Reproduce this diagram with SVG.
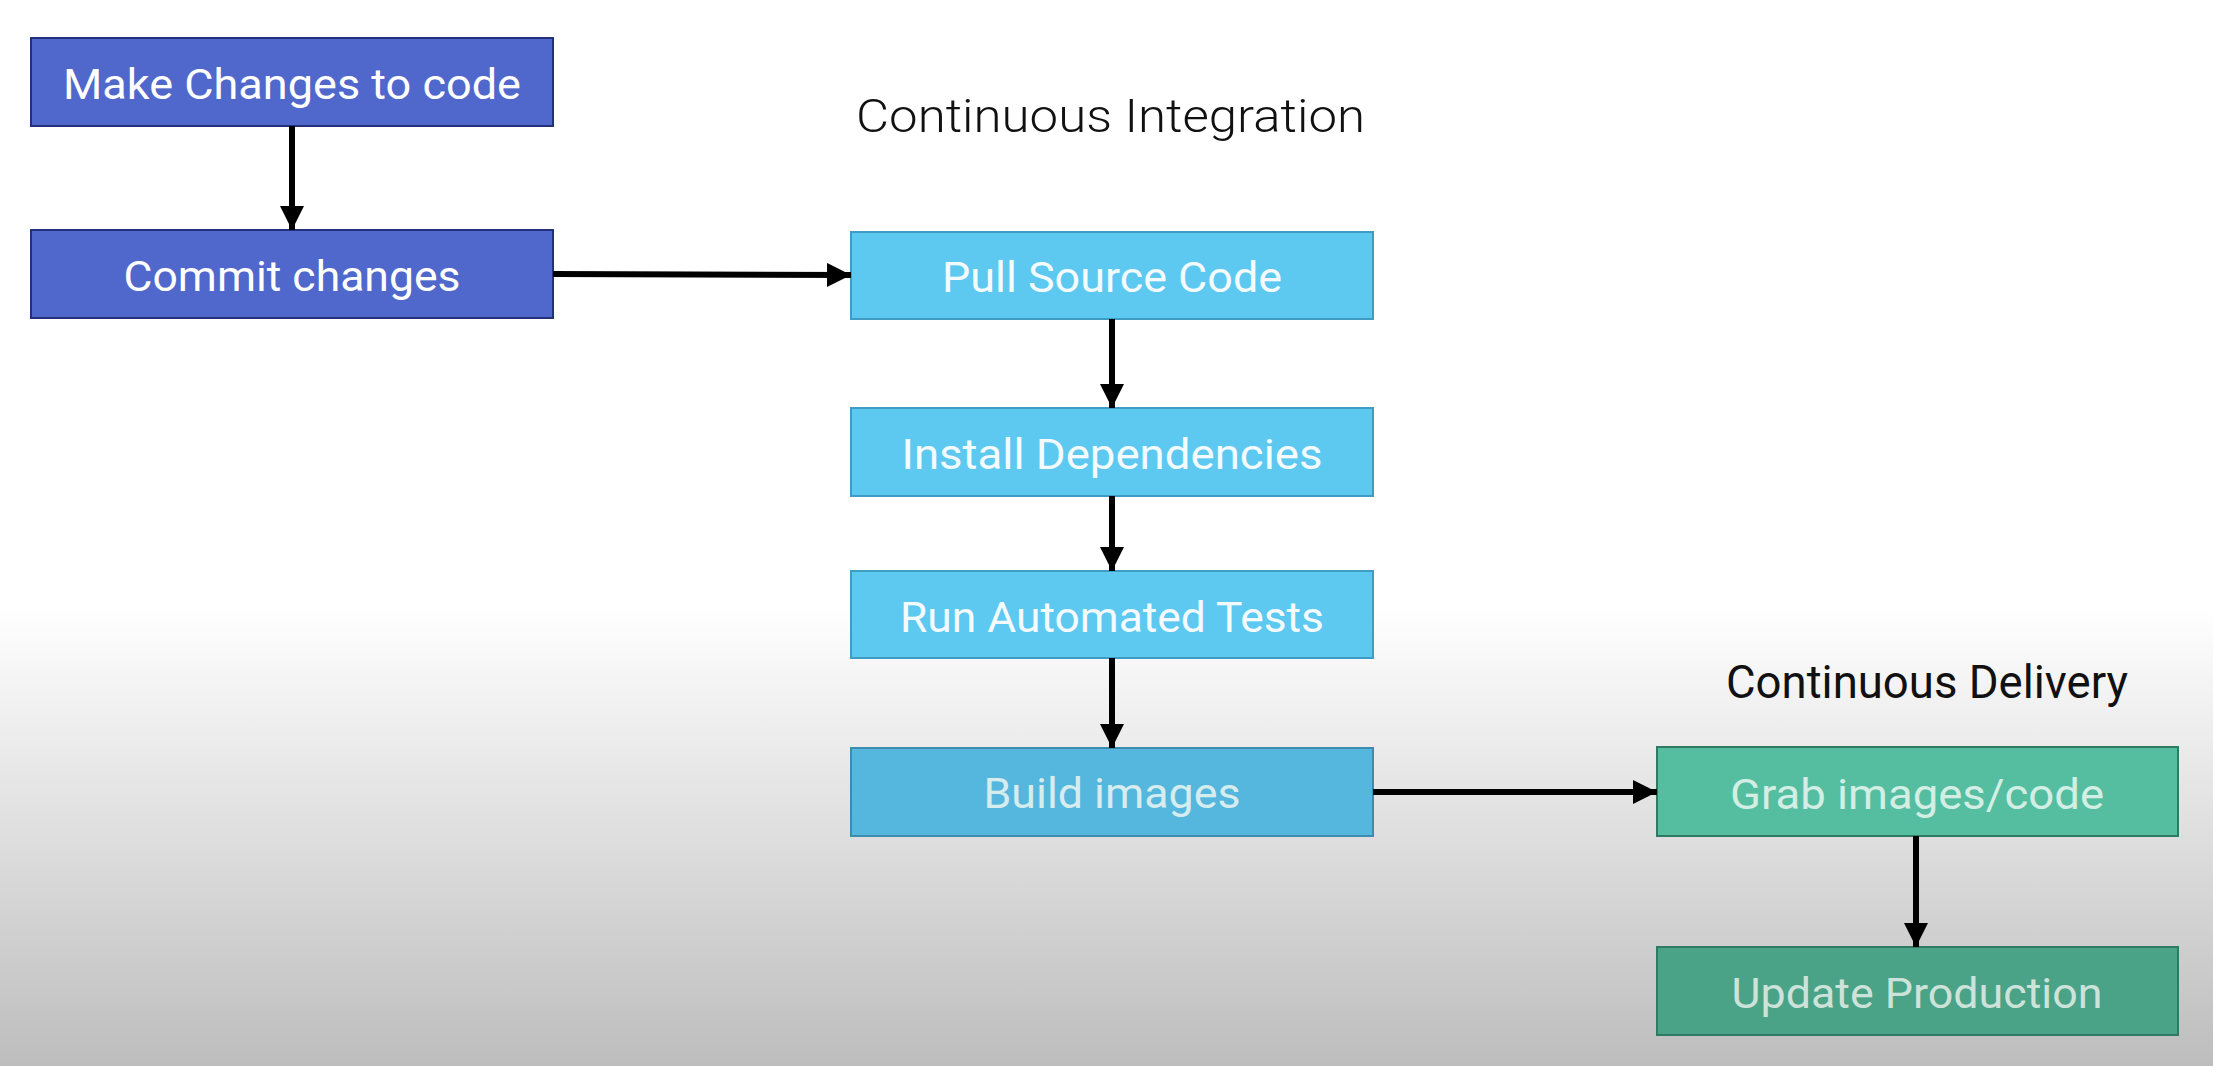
<svg xmlns="http://www.w3.org/2000/svg" width="2213" height="1066" viewBox="0 0 2213 1066">
<defs>
<linearGradient id="bg" x1="0" y1="0" x2="0" y2="1066" gradientUnits="userSpaceOnUse">
<stop offset="0" stop-color="#ffffff"/>
<stop offset="0.57" stop-color="#ffffff"/>
<stop offset="1" stop-color="#bdbdbd"/>
</linearGradient>
<marker id="ah" markerUnits="userSpaceOnUse" markerWidth="24" markerHeight="24" refX="24" refY="12" orient="auto">
<path d="M0,0 L24,12 L0,24 Z" fill="#000"/>
</marker>
<style>
.lbl{font-family:Roboto,"Liberation Sans",sans-serif;font-size:43px;text-anchor:middle}
.title{font-family:Roboto,"Liberation Sans",sans-serif;font-size:47px;fill:#111;font-weight:300}
.blue rect{fill:#5067cb;stroke:#23307e;stroke-width:2}
.cyan rect{fill:#5dc9f1;stroke:#3f9dc4;stroke-width:2}
.green rect{stroke:#2f7a63;stroke-width:2}
.conn line{stroke:#000;stroke-width:6;marker-end:url(#ah)}
</style>
</defs>
<rect x="0" y="0" width="2213" height="1066" fill="url(#bg)"/>
<text class="title" x="856" y="132" textLength="509" lengthAdjust="spacingAndGlyphs">Continuous Integration</text>
<text class="title" x="1726" y="698" textLength="402" lengthAdjust="spacingAndGlyphs" style="font-weight:400">Continuous Delivery</text>
<g id="make" class="blue"><rect x="31" y="38" width="522" height="88"/><text class="lbl" x="292" y="99" fill="#fff" textLength="458" lengthAdjust="spacingAndGlyphs">Make Changes to code</text></g>
<g id="commit" class="blue"><rect x="31" y="230" width="522" height="88"/><text class="lbl" x="292" y="291" fill="#fff" textLength="337" lengthAdjust="spacingAndGlyphs">Commit changes</text></g>
<g id="pull" class="cyan"><rect x="851" y="232" width="522" height="87"/><text class="lbl" x="1112" y="292" fill="#f4fbff" textLength="340" lengthAdjust="spacingAndGlyphs">Pull Source Code</text></g>
<g id="install" class="cyan"><rect x="851" y="408" width="522" height="88"/><text class="lbl" x="1112" y="469" fill="#f4fbff" textLength="421" lengthAdjust="spacingAndGlyphs">Install Dependencies</text></g>
<g id="run" class="cyan"><rect x="851" y="571" width="522" height="87"/><text class="lbl" x="1112" y="632" fill="#f4fbff" textLength="424" lengthAdjust="spacingAndGlyphs">Run Automated Tests</text></g>
<g id="build" class="cyan"><rect x="851" y="748" width="522" height="88" style="fill:#56b7de;stroke:#3b8cae"/><text class="lbl" x="1112" y="808" fill="#d6ecee" textLength="257" lengthAdjust="spacingAndGlyphs">Build images</text></g>
<g id="grab" class="green"><rect x="1657" y="747" width="521" height="89" fill="#56bea0"/><text class="lbl" x="1917" y="809" fill="#d3eee4" textLength="374" lengthAdjust="spacingAndGlyphs">Grab images/code</text></g>
<g id="update" class="green"><rect x="1657" y="947" width="521" height="88" fill="#4aa287"/><text class="lbl" x="1917" y="1008" fill="#cde3da" textLength="371" lengthAdjust="spacingAndGlyphs">Update Production</text></g>
<g id="connectors" class="conn">
<line x1="292" y1="126" x2="292" y2="230"/>
<line x1="553" y1="274" x2="851" y2="275"/>
<line x1="1112" y1="319" x2="1112" y2="408"/>
<line x1="1112" y1="496" x2="1112" y2="571"/>
<line x1="1112" y1="658" x2="1112" y2="748"/>
<line x1="1373" y1="792" x2="1657" y2="792"/>
<line x1="1916" y1="836" x2="1916" y2="947"/>
</g>
</svg>
